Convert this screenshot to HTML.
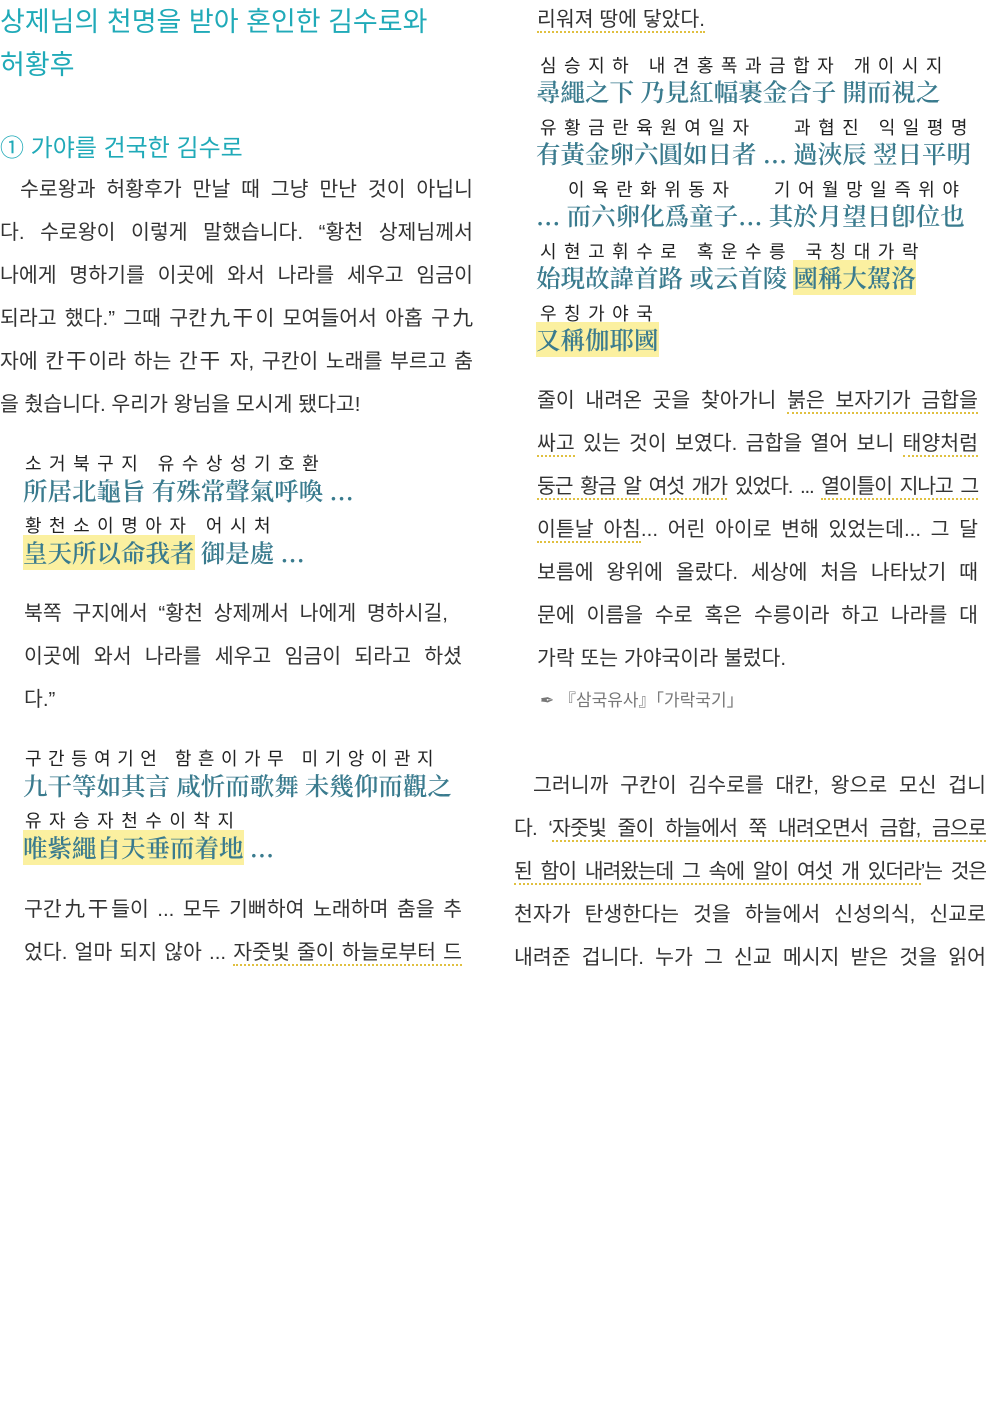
<!DOCTYPE html>
<html><head><meta charset="utf-8"><style>
body{margin:0;width:986px;height:1404px;background:#fff;position:relative;overflow:hidden;font-family:"Liberation Sans","Noto Sans CJK KR",sans-serif;color:#333}
.l{position:absolute;white-space:nowrap;font-size:20.5px;line-height:26px;text-align:justify;text-align-last:justify}
.n{text-align-last:left}
.k{letter-spacing:-0.8px}
.t{position:absolute;white-space:nowrap;color:#20aab8;font-size:27px;line-height:34px}
.r{position:absolute;white-space:nowrap;font-size:18px;letter-spacing:7.5px;color:#222;line-height:22px}
.h{position:absolute;white-space:nowrap;font-family:"Noto Serif CJK SC",serif;font-weight:600;font-size:24.5px;color:#3a7b8e;line-height:32px}
.y{background:#fbf0a0}
.u{border-bottom:2px dotted #e0c040}
</style></head><body>
<div class="t" style="left:0;top:5px">상제님의 천명을 받아 혼인한 김수로와</div>
<div class="t" style="left:0;top:48px">허황후</div>
<div class="t" style="left:0;top:132px;font-size:24px">① 가야를 건국한 김수로</div>
<div class="l" style="left:20px;width:453px;top:177px">수로왕과 허황후가 만날 때 그냥 만난 것이 아닙니</div>
<div class="l" style="left:0;width:473px;top:220px">다. 수로왕이 이렇게 말했습니다. “황천 상제님께서</div>
<div class="l" style="left:0;width:473px;top:263px">나에게 명하기를 이곳에 와서 나라를 세우고 임금이</div>
<div class="l" style="left:0;width:473px;top:306px">되라고 했다.” 그때 구칸九干이 모여들어서 아홉 구九</div>
<div class="l" style="left:0;width:473px;top:349px">자에 칸干이라 하는 간干 자, 구칸이 노래를 부르고 춤</div>
<div class="l n" style="left:0;top:392px">을 췄습니다. 우리가 왕님을 모시게 됐다고!</div>

<div class="r" style="left:25px;top:453px">소거북구지 유수상성기호환</div>
<div class="h" style="left:23px;top:475px">所居北龜旨 有殊常聲氣呼喚 ...</div>
<div class="r" style="left:25px;top:515px">황천소이명아자 어시처</div>
<div class="h" style="left:23px;top:537px"><span class="y">皇天所以命我者</span> 御是處 ...</div>

<div class="l" style="left:24px;width:424px;top:601px">북쪽 구지에서 “황천 상제께서 나에게 명하시길,</div>
<div class="l" style="left:24px;width:438px;top:644px">이곳에 와서 나라를 세우고 임금이 되라고 하셨</div>
<div class="l n" style="left:24px;top:687px">다.”</div>

<div class="r" style="left:25px;top:748px;letter-spacing:6.5px">구간등여기언 함흔이가무 미기앙이관지</div>
<div class="h" style="left:23px;top:770px">九干等如其言 咸忻而歌舞 未幾仰而觀之</div>
<div class="r" style="left:25px;top:810px">유자승자천수이착지</div>
<div class="h" style="left:23px;top:832px"><span class="y">唯紫繩自天垂而着地</span> ...</div>

<div class="l" style="left:24px;width:438px;top:897px">구간九干들이 ... 모두 기뻐하여 노래하며 춤을 추</div>
<div class="l" style="left:24px;width:438px;top:940px">었다. 얼마 되지 않아 ... <span class="u">자줏빛 줄이 하늘로부터 드</span></div>

<div class="l n" style="left:537px;top:7px"><span class="u">리워져 땅에 닿았다.</span></div>
<div class="r" style="left:540px;top:55px">심승지하 내견홍폭과금합자 개이시지</div>
<div class="h" style="left:536px;top:76px">尋繩之下 乃見紅幅裹金合子 開而視之</div>
<div class="r" style="left:540px;top:117px">유황금란육원여일자 &nbsp;&nbsp;과협진 익일평명</div>
<div class="h" style="left:536px;top:138px">有黃金卵六圓如日者 ... 過浹辰 翌日平明</div>
<div class="r" style="left:568px;top:179px">이육란화위동자 &nbsp;&nbsp;기어월망일즉위야</div>
<div class="h" style="left:536px;top:200px">... 而六卵化爲童子... 其於月望日卽位也</div>
<div class="r" style="left:540px;top:241px">시현고휘수로 혹운수릉 국칭대가락</div>
<div class="h" style="left:536px;top:262px">始現故諱首路 或云首陵 <span class="y">國稱大駕洛</span></div>
<div class="r" style="left:540px;top:303px">우칭가야국</div>
<div class="h" style="left:536px;top:324px"><span class="y">又稱伽耶國</span></div>

<div class="l" style="left:537px;width:441px;top:388px">줄이 내려온 곳을 찾아가니 <span class="u">붉은 보자기가 금합을</span></div>
<div class="l" style="left:537px;width:441px;top:431px"><span class="u">싸고</span> 있는 것이 보였다. 금합을 열어 보니 <span class="u">태양처럼</span></div>
<div class="l k" style="left:537px;width:441px;top:474px;letter-spacing:-1.2px"><span class="u">둥근 황금 알 여섯 개가</span> 있었다. ... <span class="u">열이틀이 지나고 그</span></div>
<div class="l" style="left:537px;width:441px;top:517px"><span class="u">이튿날 아침</span>... 어린 아이로 변해 있었는데... 그 달</div>
<div class="l" style="left:537px;width:441px;top:560px">보름에 왕위에 올랐다. 세상에 처음 나타났기 때</div>
<div class="l" style="left:537px;width:441px;top:603px">문에 이름을 수로 혹은 수릉이라 하고 나라를 대</div>
<div class="l n" style="left:537px;top:646px">가락 또는 가야국이라 불렀다.</div>
<div class="l n" style="left:540px;top:688px;font-size:17px;color:#777">✒ 『삼국유사』「가락국기」</div>

<div class="l" style="left:533px;width:453px;top:773px">그러니까 구칸이 김수로를 대칸, 왕으로 모신 겁니</div>
<div class="l k" style="left:514px;width:472px;top:816px">다. ‘<span class="u">자줏빛 줄이 하늘에서 쭉 내려오면서 금합, 금으로</span></div>
<div class="l k" style="left:514px;width:472px;top:859px;letter-spacing:-1.2px"><span class="u">된 함이 내려왔는데 그 속에 알이 여섯 개 있더라</span>’는 것은</div>
<div class="l" style="left:514px;width:472px;top:902px">천자가 탄생한다는 것을 하늘에서 신성의식, 신교로</div>
<div class="l" style="left:514px;width:472px;top:945px">내려준 겁니다. 누가 그 신교 메시지 받은 것을 읽어</div>
</body></html>
